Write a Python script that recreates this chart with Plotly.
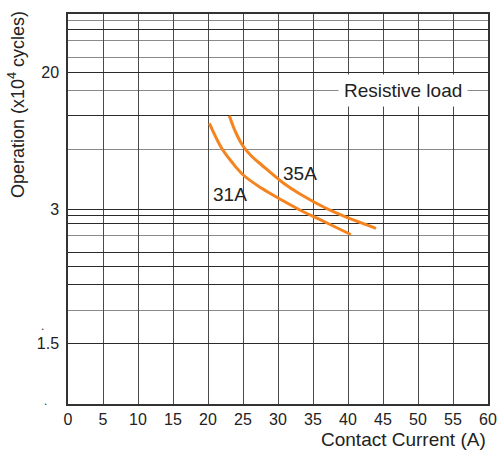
import plotly.graph_objects as go

# Contact current (A)
x_31A = [20.2, 21.96, 23.4, 25.04, 27.67, 30.53, 33.14, 36.71, 40.39]
# Operation, expressed in chart scale position units (bottom = 0, top = 390)
y_31A = [280.7, 255.7, 242.0, 229.0, 215.7, 204.0, 194.0, 182.0, 169.5]

x_35A = [23.04, 24.0, 25.0, 26.2, 27.67, 30.76, 33.14, 37.9, 44.0]
y_35A = [288.3, 271.0, 258.0, 248.0, 239.0, 221.0, 210.0, 192.3, 175.7]

x_ticks = list(range(0, 61, 5))
x_ticktext = [str(v) for v in x_ticks]

# scale positions of the dark grid rows and their labels
y_major = [374.7, 331.7, 288.3, 195.0, 188.8, 180.3, 151.3, 137.5, 119.8, 61.0]
y_major_text = ["", "20", "", "3", "", "", "", "", "", "1.5"]
# scale positions of the light grid rows
y_minor = [383.3, 363.5, 346.2, 314.0, 255.0, 168.8, 93.5]

orange = "#F5841F"
font = "Liberation Sans, Arial, sans-serif"

fig = go.Figure()
fig.add_trace(go.Scatter(x=x_31A, y=y_31A, mode="lines",
                         line=dict(color=orange, width=3, shape="spline", smoothing=1.0),
                         showlegend=False, hoverinfo="skip"))
fig.add_trace(go.Scatter(x=x_35A, y=y_35A, mode="lines",
                         line=dict(color=orange, width=3, shape="spline", smoothing=1.0),
                         showlegend=False, hoverinfo="skip"))

fig.update_layout(
    width=500, height=450,
    margin=dict(l=68, r=12, t=14, b=46, autoexpand=False),
    paper_bgcolor="white", plot_bgcolor="white",
    font=dict(family=font, color="#222222", size=16),
    xaxis=dict(range=[0, 60], tickmode="array", tickvals=x_ticks, ticktext=x_ticktext,
               showgrid=True, gridcolor="#4a4a4a", gridwidth=1.3, automargin=False,
               showline=True, linecolor="#333333", linewidth=1.5, mirror=True,
               ticks="", zeroline=False, tickfont=dict(size=16)),
    yaxis=dict(range=[0, 390], tickmode="array", tickvals=y_major, ticktext=y_major_text,
               showgrid=True, gridcolor="#2a2a2a", gridwidth=1.4, automargin=False,
               minor=dict(tickvals=y_minor, showgrid=True, gridcolor="#8a8a8a", gridwidth=1.4, ticks=""),
               showline=True, linecolor="#333333", linewidth=1.5, mirror=True,
               ticks="", zeroline=False, tickfont=dict(size=16), ticklabelstandoff=4),
)

fig.add_annotation(x=33.14, y=230.7, text="35A", showarrow=False,
                   font=dict(size=19, color="#222222"))
fig.add_annotation(x=23.14, y=209.7, text="31A", showarrow=False,
                   font=dict(size=19, color="#222222"))
fig.add_annotation(x=47.8, y=314.0, text="Resistive load", showarrow=False,
                   font=dict(size=19, color="#222222"), bgcolor="white", borderpad=5)
fig.add_annotation(xref="paper", yref="paper", x=1.0, y=-0.092, xanchor="right", yanchor="middle",
                   text="Contact Current (A)", showarrow=False, font=dict(size=19, color="#222222"))
fig.add_annotation(xref="paper", yref="paper", x=-0.121, y=0.767, xanchor="center", yanchor="middle",
                   textangle=-90, text="Operation (x10<sup>4</sup> cycles)", showarrow=False,
                   font=dict(size=18, color="#222222"))
fig.add_annotation(xref="paper", yref="paper", x=-0.068, y=0.177, text=".", showarrow=False,
                   font=dict(size=12, color="#333333"))
fig.add_annotation(xref="paper", yref="paper", x=-0.062, y=-0.015, text=".", showarrow=False,
                   font=dict(size=12, color="#333333"))

fig.write_html("out.html")
